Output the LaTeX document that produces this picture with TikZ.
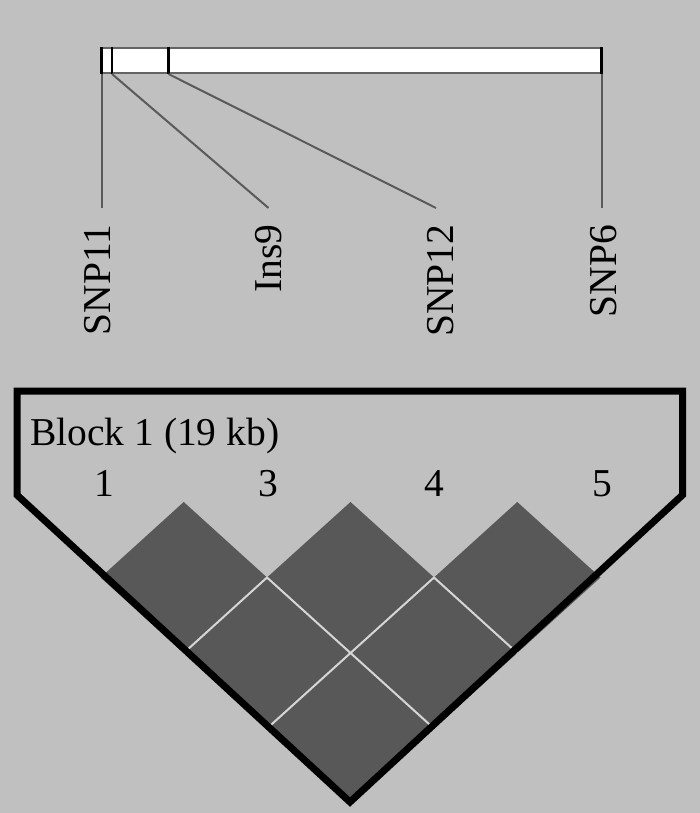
\documentclass[tikz,border=0pt]{standalone}
\usepackage{fontspec}
\setmainfont{Liberation Serif}
\definecolor{bg}{RGB}{192,192,192}
\definecolor{diam}{RGB}{88,88,88}
\definecolor{sep}{RGB}{214,214,214}
\definecolor{conn}{RGB}{90,90,90}
\definecolor{barborder}{RGB}{100,100,100}
\tikzset{
  bigtext/.style={font=\fontsize{39.5}{40}\selectfont, inner sep=0pt},
  snplabel/.style={bigtext, rotate=90, anchor=base east},
  connline/.style={draw=conn, line width=2pt},
  tickline/.style={draw=black, line width=3pt},
  diamcell/.style={fill=diam},
  sepline/.style={draw=sep, line width=2pt},
  outline/.style={draw=black, line width=7pt, line join=miter},
}
\begin{document}
\begin{tikzpicture}[x=1pt,y=-1pt]
\fill[bg] (0,0) rectangle (700,813);
\useasboundingbox (0,0) rectangle (700,813);

% marker bar
\draw[fill=white, draw=barborder, line width=2pt] (101.5,48) rectangle (601.5,73);
\coordinate (m1t) at (101.5,47); \coordinate (m1b) at (101.5,74);
\coordinate (m2t) at (112,47);   \coordinate (m2b) at (112,74);
\coordinate (m3t) at (168.5,47); \coordinate (m3b) at (168.5,74);
\coordinate (m4t) at (601.5,47); \coordinate (m4b) at (601.5,74);
\draw[tickline] (m1t) -- (m1b);
\draw[tickline, line width=2.5pt] (m2t) -- (m2b);
\draw[tickline] (m3t) -- (m3b);
\draw[tickline] (m4t) -- (m4b);

% connector ends
\coordinate (e1) at (101.5,208);
\coordinate (e2) at (268.5,208);
\coordinate (e3) at (436,208);
\coordinate (e4) at (601.5,208);
\draw[connline] (m1b) -- (e1);
\draw[connline] (m2b) -- (e2);
\draw[connline] (m3b) -- (e3);
\draw[connline] (m4b) -- (e4);

% labels
\node[snplabel] (l1) at (110.3,224.6) {SNP11};
\node[snplabel] (l2) at (281.4,224.6) {Ins9};
\node[snplabel] (l3) at (453.6,224.6) {SNP12};
\node[snplabel] (l4) at (616.5,224.6) {SNP6};

% LD diamonds
\fill[diamcell] (183.75,502) -- (267,577.5) -- (183.75,653) -- (100.5,577.5) -- cycle;
\fill[diamcell] (350.5,502) -- (434,577.5) -- (350.5,653) -- (267,577.5) -- cycle;
\fill[diamcell] (517.25,502) -- (600.5,577.5) -- (517.25,653) -- (434,577.5) -- cycle;
\fill[diamcell] (267,577.5) -- (350.5,653) -- (267,728.5) -- (183.75,653) -- cycle;
\fill[diamcell] (434,577.5) -- (517.25,653) -- (434,728.5) -- (350.5,653) -- cycle;
\fill[diamcell] (350.5,653) -- (434,728.5) -- (350.5,804) -- (267,728.5) -- cycle;
\coordinate (s1) at (183.75,653);
\coordinate (s2) at (267,577.5);
\coordinate (s3) at (350.5,653);
\coordinate (s4) at (434,728.5);
\coordinate (s5) at (434,577.5);
\coordinate (s6) at (267,728.5);
\coordinate (s7) at (517.25,653);
\draw[sepline] (s1) -- (s2);
\draw[sepline] (s2) -- (s3) -- (s4);
\draw[sepline] (s5) -- (s3) -- (s6);
\draw[sepline] (s5) -- (s7);

% block outline
\coordinate (o1) at (17,391);
\coordinate (o2) at (682.5,391);
\coordinate (o3) at (682.5,495);
\coordinate (o4) at (350,802);
\coordinate (o5) at (17,495);
\draw[outline] (o1) -- (o2) -- (o3) -- (o4) -- (o5) -- cycle;

% block texts
\node[bigtext, anchor=base west] (blk) at (30,445) {Block 1 (19 kb)};
\node[bigtext, anchor=base] (n1) at (104,496) {1};
\node[bigtext, anchor=base] (n3) at (268,496) {3};
\node[bigtext, anchor=base] (n4) at (434,496) {4};
\node[bigtext, anchor=base] (n5) at (602,496) {5};
\end{tikzpicture}
\end{document}
